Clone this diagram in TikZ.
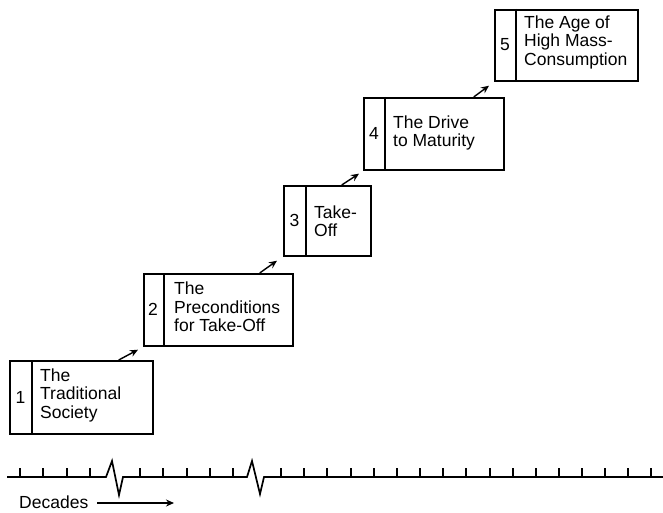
\documentclass[tikz,border=0pt]{standalone}
\usepackage{fontspec}
\setmainfont{Liberation Sans}
\usetikzlibrary{arrows.meta}
\begin{document}
\begin{tikzpicture}[x=1pt,y=-1pt,
  box/.style={draw,line width=1.7pt,anchor=north west,inner sep=0pt},
  lbl/.style={anchor=west,align=left,inner sep=0pt,font=\fontsize{17.5}{18.5}\selectfont},
  num/.style={inner sep=0pt,font=\fontsize{17.5}{18.5}\selectfont},
  arr/.style={line width=1.4pt,-{Stealth[length=8pt,width=7pt]}},
  axis/.style={line width=1.7pt,line join=miter}]
\useasboundingbox (0,0) rectangle (663,513);
% boxes
\node[box,minimum width=143pt,minimum height=73pt] (b1) at (9,360) {};
\node[box,minimum width=149pt,minimum height=72pt] (b2) at (143,273) {};
\node[box,minimum width=87pt,minimum height=70pt] (b3) at (283,185) {};
\node[box,minimum width=140pt,minimum height=72pt] (b4) at (363,97) {};
\node[box,minimum width=143pt,minimum height=71pt] (b5) at (494,9) {};
% dividers
\draw[line width=1.7pt] ([xshift=23pt]b1.north west) -- ([xshift=23pt]b1.south west);
\draw[line width=1.7pt] ([xshift=21pt]b2.north west) -- ([xshift=21pt]b2.south west);
\draw[line width=1.7pt] ([xshift=23pt]b3.north west) -- ([xshift=23pt]b3.south west);
\draw[line width=1.7pt] ([xshift=22pt]b4.north west) -- ([xshift=22pt]b4.south west);
\draw[line width=1.7pt] ([xshift=22pt]b5.north west) -- ([xshift=22pt]b5.south west);
% numbers
\node[num] (n1) at (20.5,397) {1};
\node[num] (n2) at (153,309) {2};
\node[num] (n3) at (294.5,220) {3};
\node[num] (n4) at (374,133) {4};
\node[num] (n5) at (505,44.5) {5};
% labels
\node[lbl] (t1) at (40,395) {The\\Traditional\\Society};
\node[lbl] (t2) at (174,307) {The\\Preconditions\\for Take-Off};
\node[lbl] (t3) at (314,221) {Take-\\Off};
\node[lbl] (t4) at (393,133) {The Drive\\to Maturity};
\node[lbl] (t5) at (524,42) {The Age of\\High Mass-\\Consumption};
% arrows between stages
\draw[arr] ([xshift=-35pt]b1.north east) -- ([xshift=-5pt,yshift=-3pt]b2.south west);
\draw[arr] ([xshift=-34pt]b2.north east) -- ([xshift=-6pt,yshift=-4pt]b3.south west);
\draw[arr] ([xshift=-30pt]b3.north east) -- ([xshift=-4pt,yshift=-3pt]b4.south west);
\draw[arr] ([xshift=-31pt]b4.north east) -- ([xshift=-5pt,yshift=-4pt]b5.south west);
% time axis
\draw[axis] (7,477) -- (106,477) -- (112,461) -- (119,495) -- (123,477)
  -- (247,477) -- (252,461) -- (260,494) -- (264,477) -- (663,477);
\foreach \x in {20,43,67,90,140,163,187,210,233,281,304,327,351,374,397,420,443,466,490,513,536,559,582,605,628,651}
  \draw[line width=1.5pt] (\x,468) -- (\x,477);
\node[lbl] (dec) at (19,502) {Decades};
\coordinate (d1) at (97,503);
\coordinate (d2) at (174,503);
\draw[arr] (d1) -- (d2);
\end{tikzpicture}
\end{document}
